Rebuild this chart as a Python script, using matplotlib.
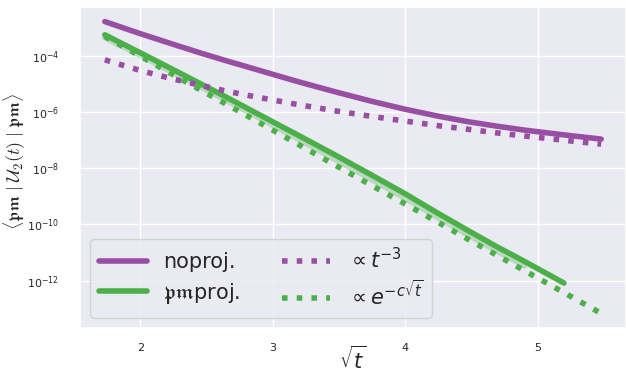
import numpy as np
import matplotlib
matplotlib.use("Agg")
import matplotlib.pyplot as plt
import seaborn as sns

sns.set_theme(style="darkgrid")

# t values and the log10 of each curve
t = np.array([3, 4, 5, 6, 7, 8, 10, 12, 14, 16, 18, 20, 22, 24, 27, 30])
noproj_log = [-2.79, -3.22, -3.58, -3.90, -4.18, -4.43, -4.89, -5.28, -5.62, -5.91,
              -6.15, -6.35, -6.51, -6.65, -6.82, -6.97]
pmproj_log = [-3.26, -3.90, -4.47, -4.99, -5.47, -5.93, -6.76, -7.52, -8.24, -8.92,
              -9.60, -10.22, -10.80, -11.32, -12.09]
pmproj_band_log = [-3.36, -4.00, -4.58, -5.10, -5.59, -6.05, -6.90, -7.68, -8.40, -9.08,
                   -9.76, -10.38, -10.96, -11.48]
power_fit_log = [-4.15, -4.53, -4.82, -5.05, -5.26, -5.43, -5.72, -5.96, -6.16, -6.33,
                 -6.49, -6.62, -6.75, -6.86, -7.01, -7.15]
exp_fit_log = [-3.32, -4.02, -4.65, -5.21, -5.72, -6.20, -7.08, -7.88, -8.61, -9.28,
               -9.92, -10.53, -11.10, -11.65, -12.43, -13.17]

purple = "#984ea3"
green = "#4daf4a"
lw = 4

x = np.sqrt(t)

fig = plt.figure(figsize=(6.26, 3.76), dpi=100)
ax = fig.add_axes([80/626, 48/376, 546/626, 321/376])

ax.plot(x, 10.0**np.array(noproj_log), color=purple, lw=lw, solid_capstyle="round", label="noproj.")
ax.plot(x[:len(pmproj_log)], 10.0**np.array(pmproj_log), color=green, lw=lw, solid_capstyle="round",
        label=r"$\mathfrak{pm}$proj.")
ax.plot(x[:len(pmproj_band_log)], 10.0**np.array(pmproj_band_log), color=green, lw=lw, alpha=0.3)
ax.plot(x, 10.0**np.array(power_fit_log), color=purple, lw=lw, ls=":", label=r"$\propto t^{-3}$")
ax.plot(x, 10.0**np.array(exp_fit_log), color=green, lw=lw, ls=":", label=r"$\propto e^{-c\sqrt{t}}$")

ax.set_yscale("log")
ax.set_yticks([1e-12, 1e-10, 1e-8, 1e-6, 1e-4])
ax.set_xticks([2, 3, 4, 5])
ax.minorticks_off()
ax.tick_params(labelsize=8)
ax.tick_params(axis="y", pad=9)
ax.tick_params(axis="x", pad=4.5)

ax.set_xlabel(r"$\sqrt{t}$", fontsize=15, va="center")
ax.xaxis.set_label_coords(0.5, -0.097)
ax.set_ylabel(r"$\langle \mathfrak{pm} \;|\; \mathcal{U}_2(t) \;|\; \mathfrak{pm} \rangle$",
              fontsize=13, math_fontfamily="cm")
ax.yaxis.set_label_coords(-0.12, 0.52)
ax.yaxis.label.set_verticalalignment("center")

ax.legend(ncol=2, loc="lower left", fontsize=15, handlelength=2.3, labelspacing=0.4)

fig.savefig("out.png", dpi=100)
